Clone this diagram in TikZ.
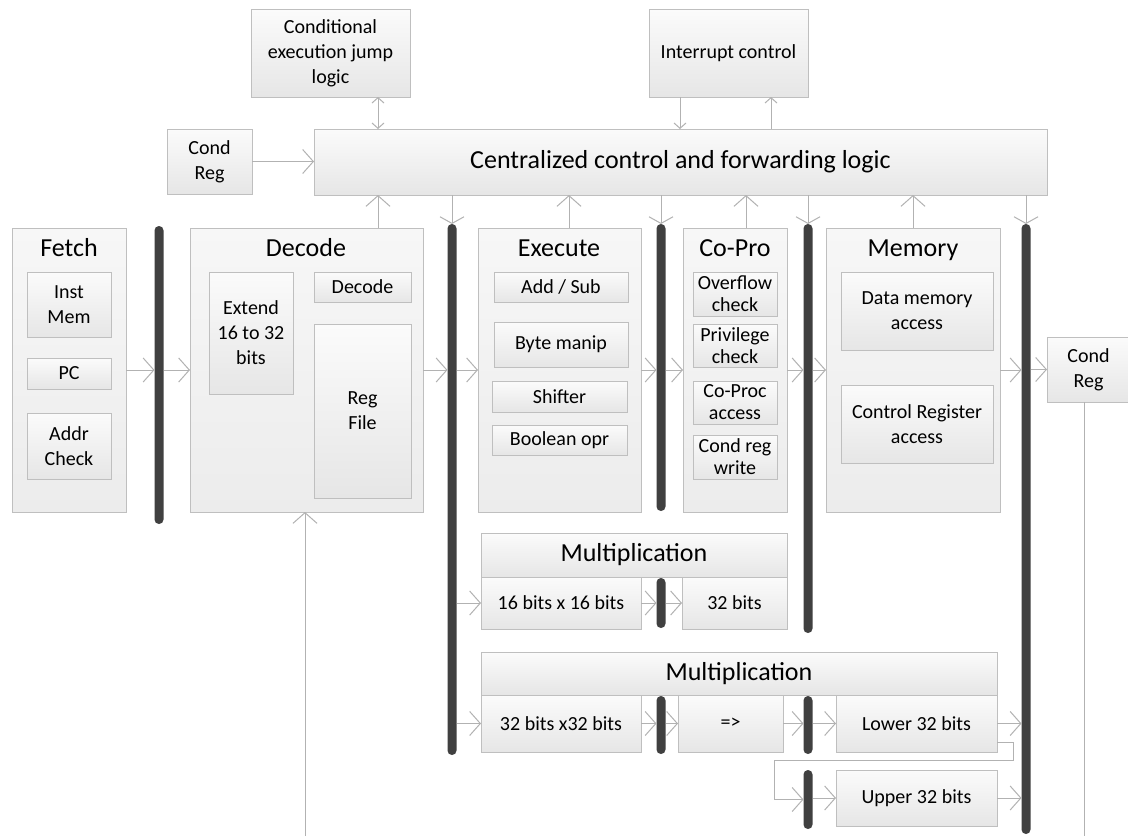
\documentclass[tikz,border=0pt]{standalone}
\usepackage{fontspec}
\setmainfont{Carlito}
\usetikzlibrary{arrows.meta}

\definecolor{edgegray}{RGB}{191,191,191}
\definecolor{wiregray}{RGB}{178,178,178}
\definecolor{latchgray}{RGB}{64,64,64}
\definecolor{boxtop}{RGB}{251,251,251}
\definecolor{boxbottom}{RGB}{230,230,230}
\definecolor{stagetop}{RGB}{247,247,247}
\definecolor{stagebottom}{RGB}{236,236,236}

\newcommand\smalltext{\fontsize{15}{18.75}\selectfont}
\newcommand\tighttext{\fontsize{15}{16.5}\selectfont}
\newcommand\titletext{\fontsize{19.5}{23}\selectfont}

% box from pixel extents: style, name, x1, y1, x2, y2, text
\newcommand\blk[7]{\node[#1, minimum width={(#5-#3)*0.75pt}, minimum height={(#6-#4)*0.75pt}] (#2) at ({(#3+#5)/2},{(#4+#6)/2}) {#7};}
% pipeline latch: name, x, y1, y2
\newcommand\latch[4]{\node[latchbar, minimum height={(#4-#3)*0.75pt}] (#1) at (#2,{(#3+#4)/2}) {};}

\tikzset{
  box/.style={draw=edgegray, line width=0.75pt, top color=boxtop, bottom color=boxbottom,
    inner sep=0pt, outer sep=0pt, align=center, font=\smalltext},
  stage/.style={box, top color=stagetop, bottom color=stagebottom},
  header/.style={box, font=\titletext},
  title/.style={font=\titletext, inner sep=0pt, anchor=base},
  latchbar/.style={fill=latchgray, rounded corners=3.3pt, inner sep=0pt, outer sep=0pt, minimum width=6.75pt},
  wire/.style={draw=wiregray, line width=0.75pt},
  flow/.style={wire, -{Straight Barb[length=8pt,width=18pt]}},
  drop/.style={wire, -{Straight Barb[length=5pt,width=18pt]}},
  small/.style={wire, -{Straight Barb[length=4pt,width=9pt]}},
  both/.style={wire, {Straight Barb[length=4pt,width=9pt]}-{Straight Barb[length=4pt,width=9pt]}}
}

\begin{document}
\begin{tikzpicture}[x=0.75pt, y=-0.75pt]
\useasboundingbox (0,0) rectangle (1128,836);
\path[fill=white] (0,0) rectangle (1128,836);

% control blocks
\blk{box}{condjump}{251}{9}{410}{97}{Conditional\\execution jump\\logic}
\blk{box}{interrupt}{649}{9}{808}{97}{Interrupt control}
\blk{box}{condregL}{167}{129}{252}{194}{Cond\\Reg}
\blk{header}{central}{314}{129}{1047}{195}{Centralized control and forwarding logic}

% pipeline stages
\blk{stage}{fetch}{12}{228}{126}{512}{}
\blk{stage}{decode}{190}{228}{423}{512}{}
\blk{stage}{execute}{478}{228}{641}{512}{}
\blk{stage}{copro}{683}{228}{787}{512}{}
\blk{stage}{memory}{826}{228}{1000}{512}{}
\node[title] (fetchT) at (69,256) {Fetch};
\node[title] (decodeT) at (306,256) {Decode};
\node[title] (executeT) at (559,256) {Execute};
\node[title] (coproT) at (735,256) {Co-Pro};
\node[title] (memoryT) at (913,256) {Memory};

% fetch contents
\blk{box}{instmem}{27}{272}{111}{337}{Inst\\Mem}
\blk{box}{pc}{27}{358}{111}{389}{PC}
\blk{box}{addrchk}{27}{413}{111}{479}{Addr\\Check}

% decode contents
\blk{box}{extend}{209}{272}{293}{394}{Extend\\16 to 32\\bits}
\blk{box}{decin}{314}{272}{411}{302}{Decode}
\blk{box}{regfile}{314}{324}{411}{498}{Reg\\File}

% execute contents
\blk{box}{addsub}{494}{272}{628}{302}{Add / Sub}
\blk{box}{bytemanip}{494}{322}{628}{367}{Byte manip}
\blk{box}{shifter}{492}{381}{627}{412}{Shifter}
\blk{box}{boolop}{492}{425}{627}{455}{Boolean opr}

% co-processor contents
\blk{box, font=\tighttext}{ovf}{693}{272}{777}{316}{Overflow\\check}
\blk{box, font=\tighttext}{priv}{693}{324}{777}{367}{Privilege\\check}
\blk{box, font=\tighttext}{cpacc}{693}{381}{777}{424}{Co-Proc\\access}
\blk{box, font=\tighttext}{crw}{693}{435}{777}{479}{Cond reg\\write}

% memory contents
\blk{box}{dmem}{841}{272}{993}{350}{Data memory\\access}
\blk{box}{ctrlreg}{841}{385}{993}{463}{Control Register\\access}

% condition register output
\blk{box}{condregR}{1047}{337}{1130}{402}{Cond\\Reg}

% multiplier 16x16
\blk{header}{mulA}{481}{533}{787}{577}{Multiplication}
\blk{box}{m16}{481}{577}{641}{629}{16 bits x 16 bits}
\blk{box}{m32}{682}{577}{787}{629}{32 bits}

% multiplier 32x32
\blk{header}{mulB}{481}{652}{997}{695}{Multiplication}
\blk{box}{m3232}{481}{695}{641}{752}{32 bits x32 bits}
\blk{box}{mid}{678}{695}{783}{752}{=>}
\blk{box}{lower}{836}{695}{997}{752}{Lower 32 bits}
\blk{box}{upper}{836}{770}{997}{826}{Upper 32 bits}

% pipeline latches
\latch{l1}{159}{226}{524}
\latch{l2}{452}{224}{755}
\latch{l3}{661}{224}{511}
\latch{l4}{808}{224}{633}
\latch{l5}{1026}{224}{834}
\latch{ma}{661}{578}{628}
\latch{mb}{661}{696}{754}
\latch{mc}{808}{696}{754}
\latch{md}{808}{770}{829}

% column positions of the control links
\coordinate (xdec) at (378,0);
\coordinate (xexe) at (569,0);
\coordinate (xcop) at (746,0);
\coordinate (xmem) at (913,0);
\coordinate (xirqin) at (680,0);
\coordinate (xirqout) at (771,0);
\coordinate (rfin) at (305,836);
\coordinate (crout) at (1084,836);
\coordinate (loopx) at (774,760);

% control links
\draw[both] (condjump.south -| xdec) -- (central.north -| xdec);
\draw[small] (interrupt.south -| xirqin) -- (central.north -| xirqin);
\draw[small] (central.north -| xirqout) -- (interrupt.south -| xirqout);
\draw[flow] (condregL.east) -- (condregL.east -| central.west);
\draw[flow] (decode.north -| xdec) -- (central.south -| xdec);
\draw[flow] (execute.north -| xexe) -- (central.south -| xexe);
\draw[flow] (copro.north -| xcop) -- (central.south -| xcop);
\draw[flow] (memory.north -| xmem) -- (central.south -| xmem);
\draw[drop] (central.south -| l2) -- (l2.north);
\draw[drop] (central.south -| l3) -- (l3.north);
\draw[drop] (central.south -| l4) -- (l4.north);
\draw[drop] (central.south -| l5) -- (l5.north);

% main pipeline flow
\draw[flow] (fetch.east) -- (fetch.east -| l1.west);
\draw[flow] (l1.east |- decode.west) -- (decode.west);
\draw[flow] (decode.east) -- (decode.east -| l2.west);
\draw[flow] (l2.east |- execute.west) -- (execute.west);
\draw[flow] (execute.east) -- (execute.east -| l3.west);
\draw[flow] (l3.east |- copro.west) -- (copro.west);
\draw[flow] (copro.east) -- (copro.east -| l4.west);
\draw[flow] (l4.east |- memory.west) -- (memory.west);
\draw[flow] (memory.east) -- (memory.east -| l5.west);
\draw[flow] (l5.east |- condregR.west) -- (condregR.west);
\draw[flow] (rfin) -- (rfin |- decode.south);
\draw[wire] (condregR.south -| crout) -- (crout);

% multiplier flow
\draw[flow] (l2.east |- m16.west) -- (m16.west);
\draw[flow] (m16.east) -- (m16.east -| ma.west);
\draw[flow] (ma.east |- m32.west) -- (m32.west);
\draw[flow] (l2.east |- m3232.west) -- (m3232.west);
\draw[flow] (m3232.east) -- (m3232.east -| mb.west);
\draw[flow] (mb.east |- mid.west) -- (mid.west);
\draw[flow] (mid.east) -- (mid.east -| mc.west);
\draw[flow] (mc.east |- lower.west) -- (lower.west);
\draw[flow] (lower.east) -- (lower.east -| l5.west);
\draw[flow] ([yshift=-14.6pt]lower.east) -- ++(16,0) |- (loopx) |- (md.west);
\draw[flow] (md.east |- upper.west) -- (upper.west);
\draw[flow] (upper.east) -- (upper.east -| l5.west);
\end{tikzpicture}
\end{document}
